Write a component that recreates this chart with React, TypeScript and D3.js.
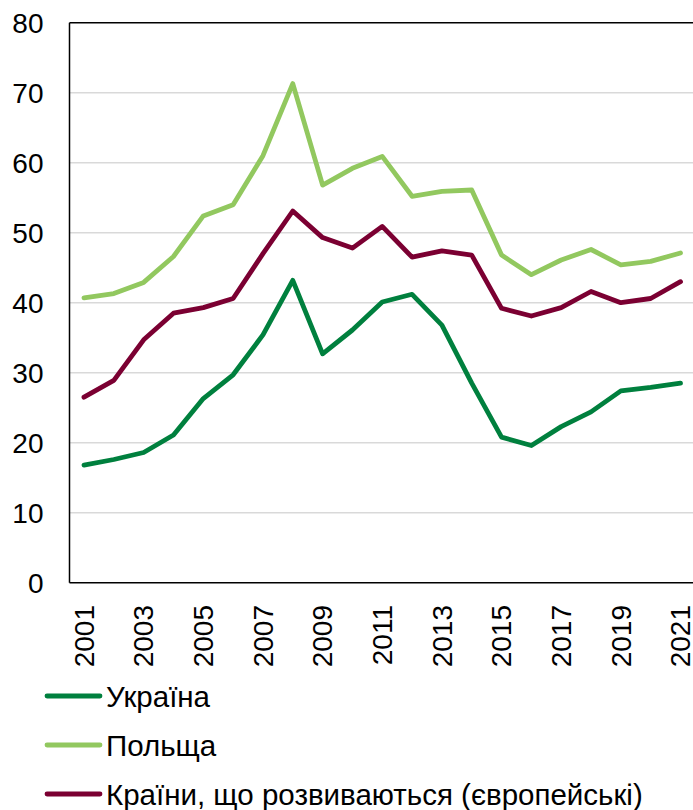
import React, { useEffect } from "react";
import * as d3 from "d3";

const years = d3.range(2001, 2022);
const ukraine = [16.8, 17.6, 18.6, 21.1, 26.3, 29.7, 35.4, 43.2, 32.7, 36.1, 40.1, 41.2, 36.8, 28.5, 20.8, 19.6, 22.3, 24.4, 27.4, 27.9, 28.5];
const poland = [40.7, 41.3, 42.9, 46.6, 52.4, 54.0, 61.0, 71.3, 56.8, 59.2, 60.9, 55.2, 55.9, 56.1, 46.8, 44.0, 46.1, 47.6, 45.4, 45.9, 47.1];
const developing = [26.5, 28.9, 34.7, 38.5, 39.3, 40.6, 47.0, 53.1, 49.3, 47.8, 50.9, 46.5, 47.4, 46.8, 39.2, 38.1, 39.3, 41.6, 40.0, 40.6, 43.0];
const yTicks = [0, 10, 20, 30, 40, 50, 60, 70, 80];
const xTickYears = [2001, 2003, 2005, 2007, 2009, 2011, 2013, 2015, 2017, 2019, 2021];
const seriesNames = ["Україна", "Польща", "Країни, що розвиваються (європейські)"];
const seriesColors = ["#00803E", "#92C85F", "#7B0032"];

const W = 693;
const H = 810;
const left = 69.5;
const right = 693;
const top = 22.7;
const bottom = 582.7;
const font = "'Liberation Sans', Arial, sans-serif";

export default function App() {
  useEffect(() => {
    document.body.style.margin = "0";
  }, []);
  const x = d3.scaleLinear().domain([2001, 2021]).range([84, 680.5]);
  const y = d3.scaleLinear().domain([0, 80]).range([bottom, top]);
  const line = d3
    .line<number>()
    .x((_, i) => x(years[i]))
    .y((d) => y(d));
  const data = [ukraine, poland, developing];
  const order = [1, 2, 0];
  const legendY = [696, 745, 794];
  return (
    <svg width={W} height={H} style={{ display: "block", background: "#fff" }}>
      {yTicks.slice(1, -1).map((t) => (
        <line key={t} x1={left} x2={right} y1={y(t)} y2={y(t)} stroke="#D9D9D9" strokeWidth={1.5} />
      ))}
      <line x1={left} x2={right} y1={top} y2={top} stroke="#000" strokeWidth={1.5} />
      <line x1={left} x2={left} y1={top} y2={bottom} stroke="#000" strokeWidth={1.5} />
      <line x1={left} x2={right} y1={bottom} y2={bottom} stroke="#000" strokeWidth={1.5} />
      {yTicks.map((t) => (
        <text key={t} x={43.5} y={y(t)} dy="0.36em" textAnchor="end" fontFamily={font} fontSize={28} fill="#000">
          {t}
        </text>
      ))}
      {xTickYears.map((yr) => (
        <text
          key={yr}
          transform={`translate(${x(yr)},605) rotate(-90)`}
          dy="0.35em"
          textAnchor="end"
          fontFamily={font}
          fontSize={28}
          fill="#000"
        >
          {yr}
        </text>
      ))}
      {order.map((i) => (
        <path
          key={i}
          d={line(data[i]) || ""}
          fill="none"
          stroke={seriesColors[i]}
          strokeWidth={4.8}
          strokeLinejoin="round"
          strokeLinecap="round"
        />
      ))}
      {seriesNames.map((n, i) => (
        <g key={n}>
          <line x1={47} x2={100} y1={legendY[i]} y2={legendY[i]} stroke={seriesColors[i]} strokeWidth={4.8} strokeLinecap="round" />
          <text x={106} y={legendY[i]} dy="0.36em" fontFamily={font} fontSize={29.5} fill="#000">
            {n}
          </text>
        </g>
      ))}
    </svg>
  );
}
